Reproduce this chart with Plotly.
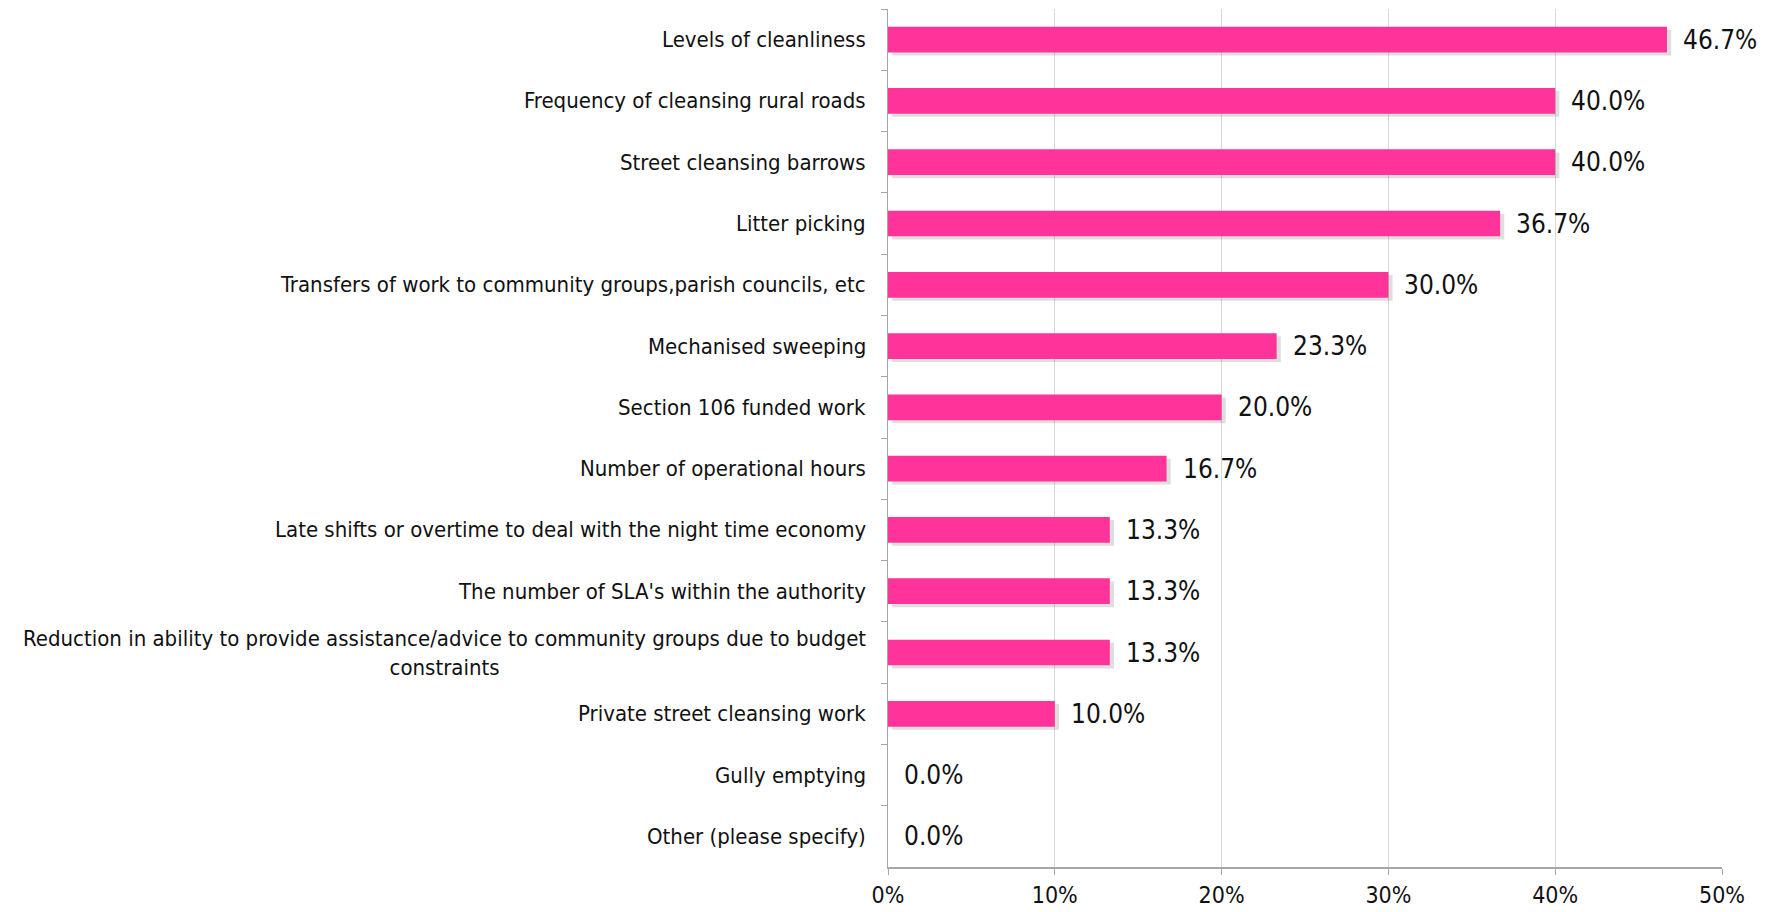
import plotly.graph_objects as go

categories = [
    "Levels of cleanliness",
    "Frequency of cleansing rural roads",
    "Street cleansing barrows",
    "Litter picking",
    "Transfers of work to community groups,parish councils, etc",
    "Mechanised sweeping",
    "Section 106 funded work",
    "Number of operational hours",
    "Late shifts or overtime to deal with the night time economy",
    "The number of SLA's within the authority",
    "Reduction in ability to provide assistance/advice to community groups due to budget<br>constraints",
    "Private street cleansing work",
    "Gully emptying",
    "Other (please specify)",
]
values = [46.7, 40.0, 40.0, 36.7, 30.0, 23.3, 20.0, 16.7, 13.3, 13.3, 13.3, 10.0, 0.0, 0.0]
x_ticks = [0, 10, 20, 30, 40, 50]

FONT = "Liberation Sans Narrow, Arial Narrow, DejaVu Sans Condensed, sans-serif"
BAR_W = 0.42

fig = go.Figure()

# soft drop shadow under each bar
fig.add_trace(go.Bar(
    y=categories, x=values, orientation="h",
    base=0.25, width=BAR_W, offset=-BAR_W / 2 + 0.05,
    marker=dict(color="rgba(0,0,0,0.13)", line=dict(width=0)),
    hoverinfo="skip", showlegend=False,
))
fig.add_trace(go.Bar(
    y=categories, x=values, orientation="h",
    width=BAR_W, offset=-BAR_W / 2,
    marker=dict(color="#FF3399", line=dict(width=0)),
    showlegend=False,
))

# category labels (centered when wrapped onto two lines)
for cat in categories:
    fig.add_annotation(
        x=0, xref="paper", y=cat, yref="y",
        text=cat, showarrow=False, xanchor="right", yanchor="middle",
        align="center", xshift=-20,
        font=dict(family=FONT, size=22, color="#111111"),
    )

# value labels
for cat, v in zip(categories, values):
    fig.add_annotation(
        x=v, xref="x", y=cat, yref="y",
        text=f"{v:.1f}%", showarrow=False, xanchor="left", yanchor="middle",
        xshift=14,
        font=dict(family=FONT, size=26, color="#111111"),
    )

fig.update_layout(
    width=1778, height=912,
    margin=dict(l=888, r=56, t=9, b=45),
    paper_bgcolor="white", plot_bgcolor="white",
    barmode="overlay",
    xaxis=dict(
        range=[0, 50], tickvals=x_ticks, ticktext=[f"{t}%" for t in x_ticks],
        showgrid=True, gridcolor="#d9d9d9", gridwidth=1,
        showline=True, linecolor="#a6a6a6", linewidth=2,
        ticks="outside", ticklen=6, tickcolor="#a6a6a6",
        tickfont=dict(family=FONT, size=23, color="#111111"),
        zeroline=False, fixedrange=True, automargin=False,
    ),
    yaxis=dict(
        autorange="reversed", categoryorder="array", categoryarray=categories,
        showticklabels=False, showline=True, linecolor="#a6a6a6", linewidth=1,
        ticks="outside", ticklen=6, tickcolor="#a6a6a6", tickson="boundaries",
        showgrid=False, zeroline=False, automargin=False,
    ),
)

fig.write_html("out.html")
